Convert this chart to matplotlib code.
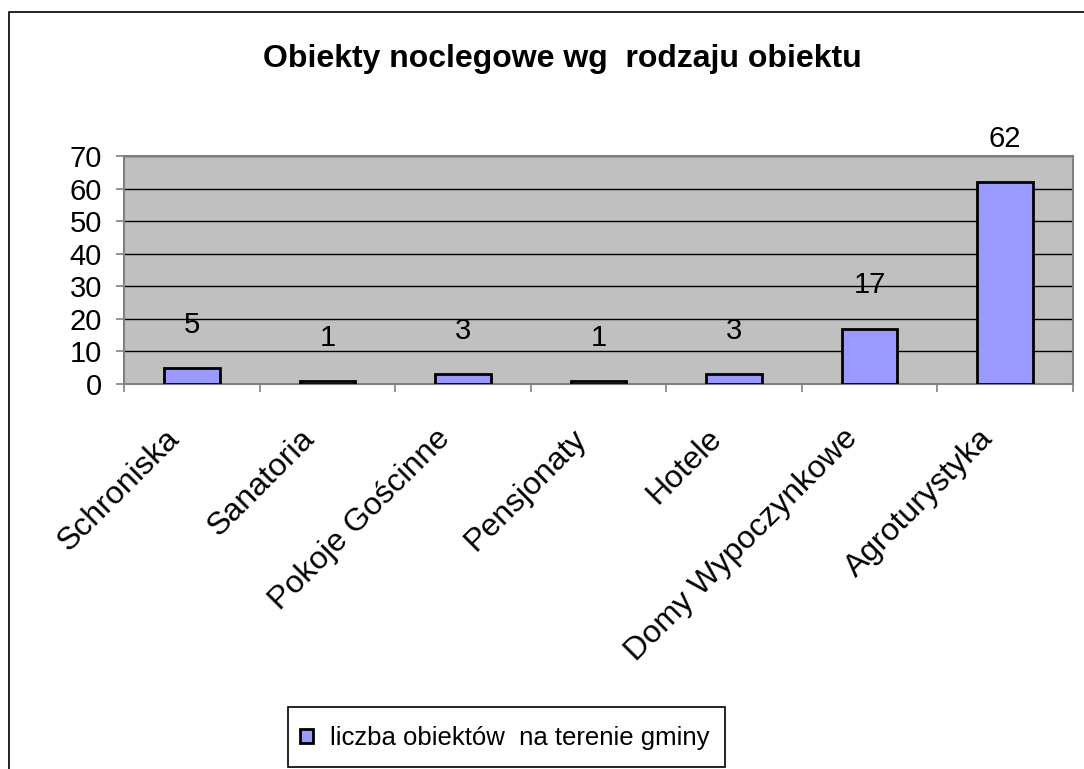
import matplotlib.pyplot as plt
import matplotlib.transforms as mtransforms
from matplotlib.patches import Rectangle, Patch

plt.rcParams['font.family'] = ['Liberation Sans', 'DejaVu Sans']

categories = ['Schroniska', 'Sanatoria', 'Pokoje Gościnne', 'Pensjonaty',
              'Hotele', 'Domy Wypoczynkowe', 'Agroturystyka']
values = [5, 1, 3, 1, 3, 17, 62]
yticks = [0, 10, 20, 30, 40, 50, 60, 70]
title = 'Obiekty noclegowe wg  rodzaju obiektu'
series_name = 'liczba obiektów  na terenie gminy'

bar_color = '#9999FF'
W, H = 1084, 769

fig = plt.figure(figsize=(W / 100, H / 100), dpi=100)
fig.patch.set_facecolor('white')

# ramka wykresu (obcieta z prawej i od dolu)
fig.patches.append(Rectangle((9 / W, -0.1), 1.2, 1.1 - 12 / H, transform=fig.transFigure,
                             fill=False, edgecolor='black', linewidth=1.2))

ax = fig.add_axes([124 / W, 1 - 384 / H, (1073 - 124) / W, (384 - 156) / H])
ax.set_facecolor('#C0C0C0')

x = list(range(len(categories)))
ax.bar(x, values, width=0.41, color=bar_color, edgecolor='black', linewidth=2, zorder=3)

for xi, v in zip(x, values):
    ax.annotate(str(v), (xi, v), xytext=(0, 21), textcoords='offset points',
                ha='center', va='bottom', fontsize=21, zorder=4)

ax.set_xlim(-0.5, len(categories) - 0.5)
ax.set_ylim(0, 70)
ax.set_yticks(yticks)
ax.set_yticklabels([str(t) for t in yticks], fontsize=21)
ax.yaxis.grid(True, color='black', linewidth=1, zorder=1)
ax.set_axisbelow(True)

ax.set_xticks(x)
ax.set_xticklabels(categories, fontsize=23, rotation=45, ha='right', va='center',
                   rotation_mode='anchor')
ax.set_xticks([i - 0.5 for i in range(len(categories) + 1)], minor=True)
ax.tick_params(axis='x', which='major', length=0, pad=36)
ax.tick_params(axis='x', which='minor', length=6, color='#808080', width=1.2, direction='out')
ax.tick_params(axis='y', length=6, color='#808080', width=1.2, direction='out', pad=10)

shift = mtransforms.ScaledTranslation(-17 / 100, 0, fig.dpi_scale_trans)
for lab in ax.get_xticklabels():
    lab.set_transform(lab.get_transform() + shift)

for side in ['left', 'top', 'right', 'bottom']:
    ax.spines[side].set_color('#808080')
    ax.spines[side].set_linewidth(1.5)

fig.text(562 / W, 1 - 59 / H, title, ha='center', va='center', fontsize=23, fontweight='bold')

# legenda
fig.patches.append(Rectangle((288 / W, 1 - 767 / H), 437 / W, 60 / H, transform=fig.transFigure,
                             fill=False, edgecolor='black', linewidth=1.2))
handle = Patch(facecolor=bar_color, edgecolor='black', linewidth=2)
fig.legend([handle], [series_name], loc='center left', bbox_to_anchor=(300 / W, 1 - 738 / H),
           frameon=False, fontsize=18.5, handlelength=0.5,
           handleheight=0.5, handletextpad=0.66, borderpad=0, borderaxespad=0)

fig.savefig('out.png', dpi=100)
